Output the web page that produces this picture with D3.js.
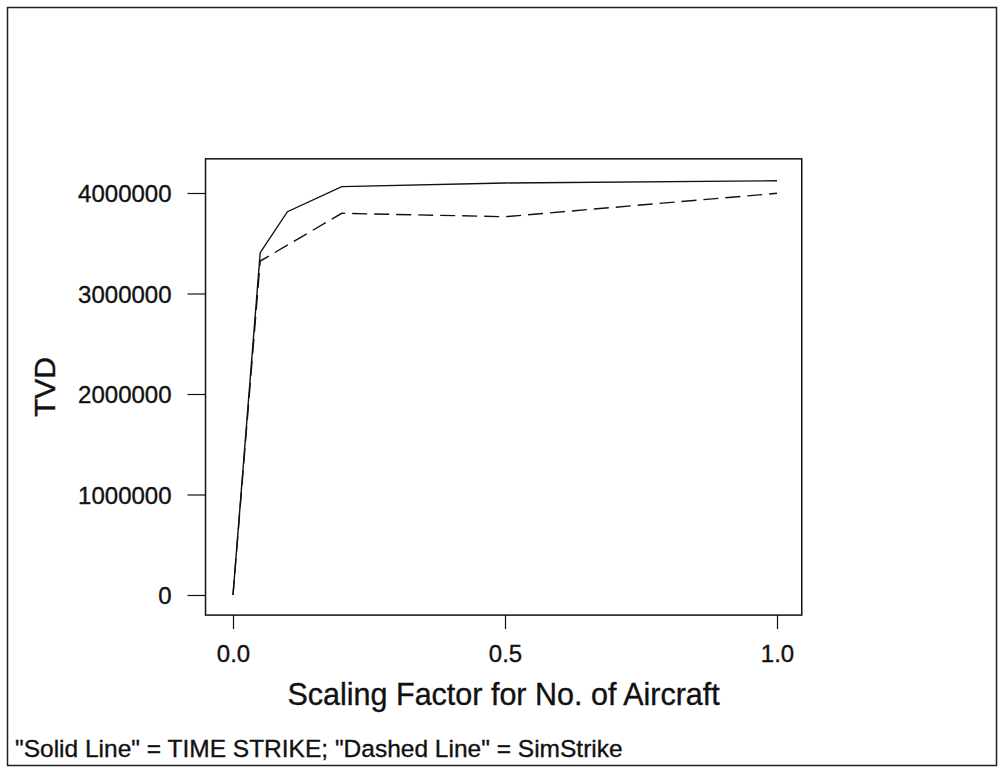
<!DOCTYPE html>
<html>
<head>
<meta charset="utf-8">
<script src="https://cdn.jsdelivr.net/npm/d3@7"></script>
<style>
  body { margin: 0; background: #fff; }
  text { font-family: "Liberation Sans", Arial, sans-serif; fill: #111; stroke: #111; stroke-width: 0.35px; }
</style>
</head>
<body>
<div id="chart"></div>
<script>
// data
const solidX = [0, 0.05, 0.1, 0.2, 0.5, 1.0];
const solidY = [0, 3406000, 3814000, 4063000, 4100000, 4122000];
const dashedX = [0, 0.05, 0.2, 0.5, 1.0];
const dashedY = [0, 3323000, 3798000, 3764000, 3997000];
const xTicks = [0, 0.5, 1.0];
const yTicks = [0, 1000000, 2000000, 3000000, 4000000];

const width = 1003,
    height = 770;

const svg = d3.select("#chart")
    .append("svg")
    .attr("width", width)
    .attr("height", height);

// outer frame
svg.append("rect")
    .attr("x", 7.5).attr("y", 7.5)
    .attr("width", 989).attr("height", 758)
    .attr("fill", "none")
    .attr("stroke", "#222")
    .attr("stroke-width", 1.5);

// scales
const xScale = d3.scaleLinear()
    .domain([0, 1])
    .range([233, 777]);

const yScale = d3.scaleLinear()
    .domain([0, 4000000])
    .range([595, 193]);

// plot box (padded data region)
const x0 = xScale(-0.0505), x1 = xScale(1.0455);
const y0 = yScale(-200000), y1 = yScale(4340000);
svg.append("rect")
    .attr("x", x0).attr("y", y1)
    .attr("width", x1 - x0).attr("height", y0 - y1)
    .attr("fill", "none")
    .attr("stroke", "#111")
    .attr("stroke-width", 1.5);

// axes
const xAxis = d3.axisBottom(xScale)
    .tickValues(xTicks)
    .tickFormat(d3.format(".1f"))
    .tickSize(14)
    .tickSizeOuter(0)
    .tickPadding(16);
const yAxis = d3.axisLeft(yScale)
    .tickValues(yTicks)
    .tickFormat(d => d3.format("d")(d))
    .tickSize(18)
    .tickSizeOuter(0)
    .tickPadding(16);

const gx = svg.append("g")
    .attr("transform", `translate(0, ${y0})`)
    .call(xAxis);
const gy = svg.append("g")
    .attr("transform", `translate(${x0}, 0)`)
    .call(yAxis);

[gx, gy].forEach(g => {
    g.select(".domain").remove();
    g.selectAll("line").attr("stroke", "#111").attr("stroke-width", 1.2);
    g.selectAll("text")
        .style("font-family", "'Liberation Sans', Arial, sans-serif")
        .style("font-size", "24px")
        .attr("fill", "#111");
});
gy.selectAll("text").attr("dy", "0.36em");

// axis titles
svg.append("text")
    .attr("x", (x0 + x1) / 2)
    .attr("y", 705)
    .attr("text-anchor", "middle")
    .style("font-size", "30.5px")
    .text("Scaling Factor for No. of Aircraft");

svg.append("text")
    .attr("transform", `translate(55, ${(y0 + y1) / 2}) rotate(-90)`)
    .attr("text-anchor", "middle")
    .style("font-size", "30px")
    .text("TVD");

// footnote
svg.append("text")
    .attr("x", 15)
    .attr("y", 757)
    .style("font-size", "24.5px")
    .text("\"Solid Line\" = TIME STRIKE; \"Dashed Line\" = SimStrike");

// lines
const line = d3.line()
    .x(d => xScale(d[0]))
    .y(d => yScale(d[1]));

svg.append("path")
    .datum(solidX.map((x, i) => [x, solidY[i]]))
    .attr("d", line)
    .attr("fill", "none")
    .attr("stroke", "#111")
    .attr("stroke-width", 1.4);

svg.append("path")
    .datum(dashedX.map((x, i) => [x, dashedY[i]]))
    .attr("d", line)
    .attr("fill", "none")
    .attr("stroke", "#111")
    .attr("stroke-width", 1.4)
    .attr("stroke-dasharray", "15,7");
</script>
</body>
</html>
